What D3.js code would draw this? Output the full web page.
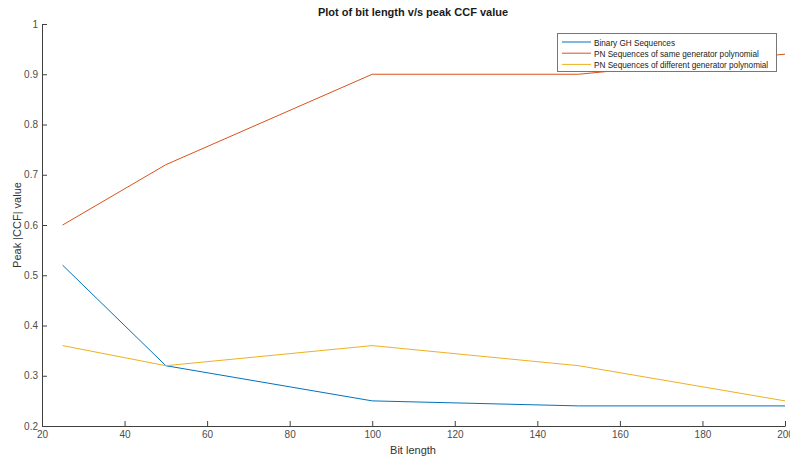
<!DOCTYPE html>
<html><head><meta charset="utf-8">
<script src="https://cdn.jsdelivr.net/npm/d3@7"></script>
<style>body{margin:0;background:#fff}svg{display:block}text{font-family:"Liberation Sans",Arial,sans-serif}</style>
</head><body>
<svg id="c" width="790" height="459"></svg>
<script>
const bitLength = [25, 50, 100, 150, 200];
const binaryGH = [0.52, 0.32, 0.25, 0.24, 0.24];
const pnSame = [0.60, 0.72, 0.90, 0.90, 0.94];
const pnDiff = [0.36, 0.32, 0.36, 0.32, 0.25];
const seriesNames = ["Binary GH Sequences", "PN Sequences of same generator polynomial", "PN Sequences of different generator polynomial"];
const colors = ["#0072BD", "#D95319", "#EDB120"];
const xTicks = [20, 40, 60, 80, 100, 120, 140, 160, 180, 200];
const yTicks = [0.2, 0.3, 0.4, 0.5, 0.6, 0.7, 0.8, 0.9, 1];

const svg = d3.select("#c");
const L = 42, R = 785, T = 24, B = 426;
const x = d3.scaleLinear().domain([20, 200]).range([L, R]);
const y = d3.scaleLinear().domain([0.2, 1]).range([B, T]);

const axisColor = "#404040", textColor = "#4d4d4d";
const xAxis = svg.append("g").attr("transform", `translate(0,${B})`)
  .call(d3.axisBottom(x).tickValues(xTicks).tickFormat(d3.format("d")).tickSizeInner(-5).tickSizeOuter(0).tickPadding(5));
const yAxis = svg.append("g").attr("transform", `translate(${L},0)`)
  .call(d3.axisLeft(y).tickValues(yTicks).tickFormat(d => d === 1 ? "1" : d3.format(".1f")(d)).tickSizeInner(-5).tickSizeOuter(0).tickPadding(4));
[xAxis, yAxis].forEach(a => {
  a.select(".domain").attr("stroke", axisColor).attr("stroke-width", 1);
  a.selectAll(".tick line").attr("stroke", axisColor);
  a.selectAll("text").attr("fill", textColor).attr("font-size", 10);
});

const data = [binaryGH, pnSame, pnDiff];
const line = d3.line().x((d, i) => x(bitLength[i])).y(d => y(d));
data.forEach((s, k) => {
  svg.append("path").datum(s).attr("d", line).attr("fill", "none")
    .attr("stroke", colors[k]).attr("stroke-width", 1);
});

svg.append("text").attr("x", 413).attr("y", 16).attr("text-anchor", "middle")
  .attr("font-size", 11).attr("font-weight", "bold").attr("fill", "#1a1a1a").text("Plot of bit length v/s peak CCF value");
svg.append("text").attr("x", 413).attr("y", 454).attr("text-anchor", "middle")
  .attr("font-size", 11).attr("fill", "#333").text("Bit length");
svg.append("text").attr("transform", "translate(21,225) rotate(-90)").attr("text-anchor", "middle")
  .attr("font-size", 11).attr("fill", "#333").text("Peak |CCF| value");

const lg = svg.append("g");
lg.append("rect").attr("x", 557.5).attr("y", 33.5).attr("width", 219).attr("height", 38)
  .attr("fill", "#fff").attr("stroke", "#777").attr("stroke-width", 1);
seriesNames.forEach((n, k) => {
  const yy = 42 + k * 11.2;
  lg.append("line").attr("x1", 562).attr("x2", 591).attr("y1", yy).attr("y2", yy)
    .attr("stroke", colors[k]).attr("stroke-width", 1);
  lg.append("text").attr("x", 594).attr("y", yy + 3.5).attr("font-size", 8.2).attr("fill", "#1a1a1a").text(n);
});
</script>
</body></html>
